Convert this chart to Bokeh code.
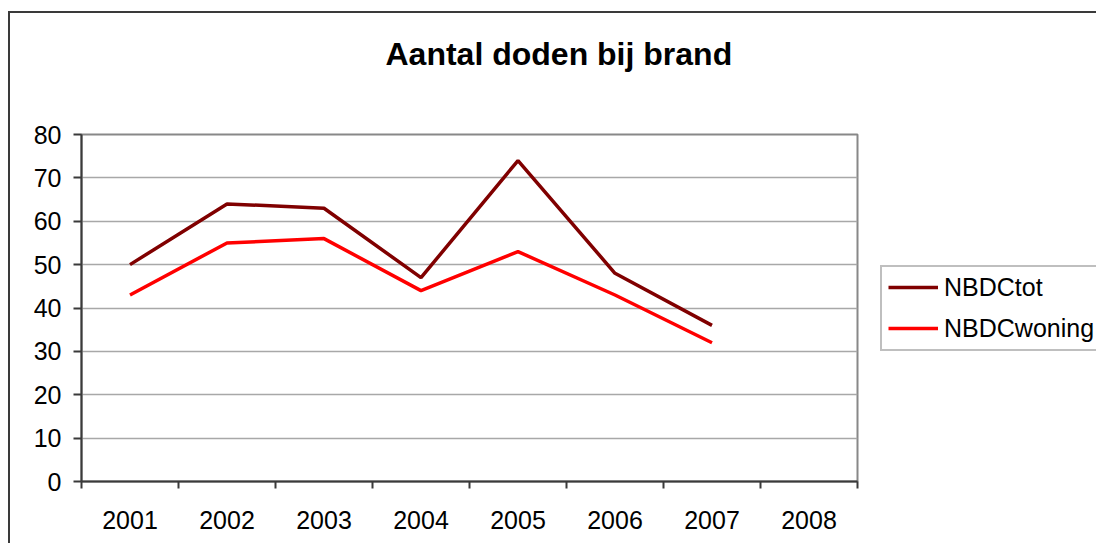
from bokeh.plotting import figure
from bokeh.models import (FixedTicker, Range1d, Legend, LegendItem,
                          ColumnDataSource, Title)
from bokeh.embed import file_html
from bokeh.resources import INLINE

years = ["2001", "2002", "2003", "2004", "2005", "2006", "2007", "2008"]
nbdc_tot = [50, 64, 63, 47, 74, 48, 36]
nbdc_woning = [43, 55, 56, 44, 53, 43, 32]
y_ticks = [0, 10, 20, 30, 40, 50, 60, 70, 80]

FONT = "Liberation Sans"
DARK = "#3a3a3a"

p = figure(frame_width=776, frame_height=347, output_backend="svg", toolbar_location=None,
           x_range=Range1d(0, len(years)), y_range=Range1d(0, 80),
           min_border_left=71, min_border_top=121, min_border_right=0,
           min_border_bottom=62, title=None)
p.styles = {"margin-left": "8px", "margin-top": "11px",
            "border-left": "2px solid #3a3a3a", "border-top": "2px solid #3a3a3a"}

centers = [i + 0.5 for i in range(len(years))]
src_tot = ColumnDataSource(dict(x=centers[:len(nbdc_tot)], y=nbdc_tot))
src_won = ColumnDataSource(dict(x=centers[:len(nbdc_woning)], y=nbdc_woning))

r1 = p.line("x", "y", source=src_tot, line_color="#800000", line_width=3.5)
r2 = p.line("x", "y", source=src_won, line_color="#ff0000", line_width=3.5)

# x axis: labels at category centres, tick marks at boundaries (minor ticks)
xa = p.xaxis[0]
xa.ticker = FixedTicker(ticks=centers, minor_ticks=list(range(len(years) + 1)))
xa.major_label_overrides = {c: y for c, y in zip(centers, years)}
xa.major_tick_line_color = None
xa.major_tick_out = 0
xa.major_tick_in = 0
xa.minor_tick_line_color = DARK
xa.minor_tick_line_width = 2
xa.minor_tick_out = 7
xa.minor_tick_in = 0
xa.axis_line_color = DARK
xa.axis_line_width = 2
xa.major_label_text_font = FONT
xa.major_label_text_font_size = "25px"
xa.major_label_text_color = "black"
xa.major_label_standoff = 22

ya = p.yaxis[0]
ya.ticker = FixedTicker(ticks=y_ticks, minor_ticks=[])
ya.axis_line_color = DARK
ya.axis_line_width = 2
ya.major_tick_line_color = DARK
ya.major_tick_line_width = 2
ya.major_tick_out = 8
ya.major_tick_in = 0
ya.minor_tick_line_color = None
ya.major_label_text_font = FONT
ya.major_label_text_font_size = "25px"
ya.major_label_text_color = "black"
ya.major_label_standoff = 12

p.xgrid.grid_line_color = None
p.ygrid.grid_line_color = "#a8a8a8"
p.ygrid.grid_line_width = 1.5
p.ygrid.ticker = FixedTicker(ticks=y_ticks)

p.outline_line_color = "#888888"
p.outline_line_width = 2
p.background_fill_color = "white"
p.border_fill_color = "white"

# spacer between title and frame, then the title itself (outermost)
spacer = Title(text=" ", text_font_size="1px", standoff=41)
p.add_layout(spacer, "above")
title = Title(text="Aantal doden bij brand", text_font=FONT,
              text_font_size="32px", text_font_style="bold",
              text_color="black", align="left", offset=304, standoff=38)
p.add_layout(title, "above")

legend = Legend(items=[LegendItem(label="NBDCtot", renderers=[r1]),
                       LegendItem(label="NBDCwoning", renderers=[r2])],
                location=(23, 130.5), orientation="vertical")
legend.label_text_font = FONT
legend.label_text_font_size = "25px"
legend.label_text_color = "black"
legend.glyph_width = 50
legend.glyph_height = 24
legend.label_height = 24
legend.label_standoff = 6
legend.spacing = 12
legend.padding = 6
legend.margin = 0
legend.border_line_color = "#808080"
legend.border_line_width = 2
legend.background_fill_color = "white"
legend.background_fill_alpha = 1
p.add_layout(legend, "right")

open("out.html", "w").write(file_html(p, INLINE))
